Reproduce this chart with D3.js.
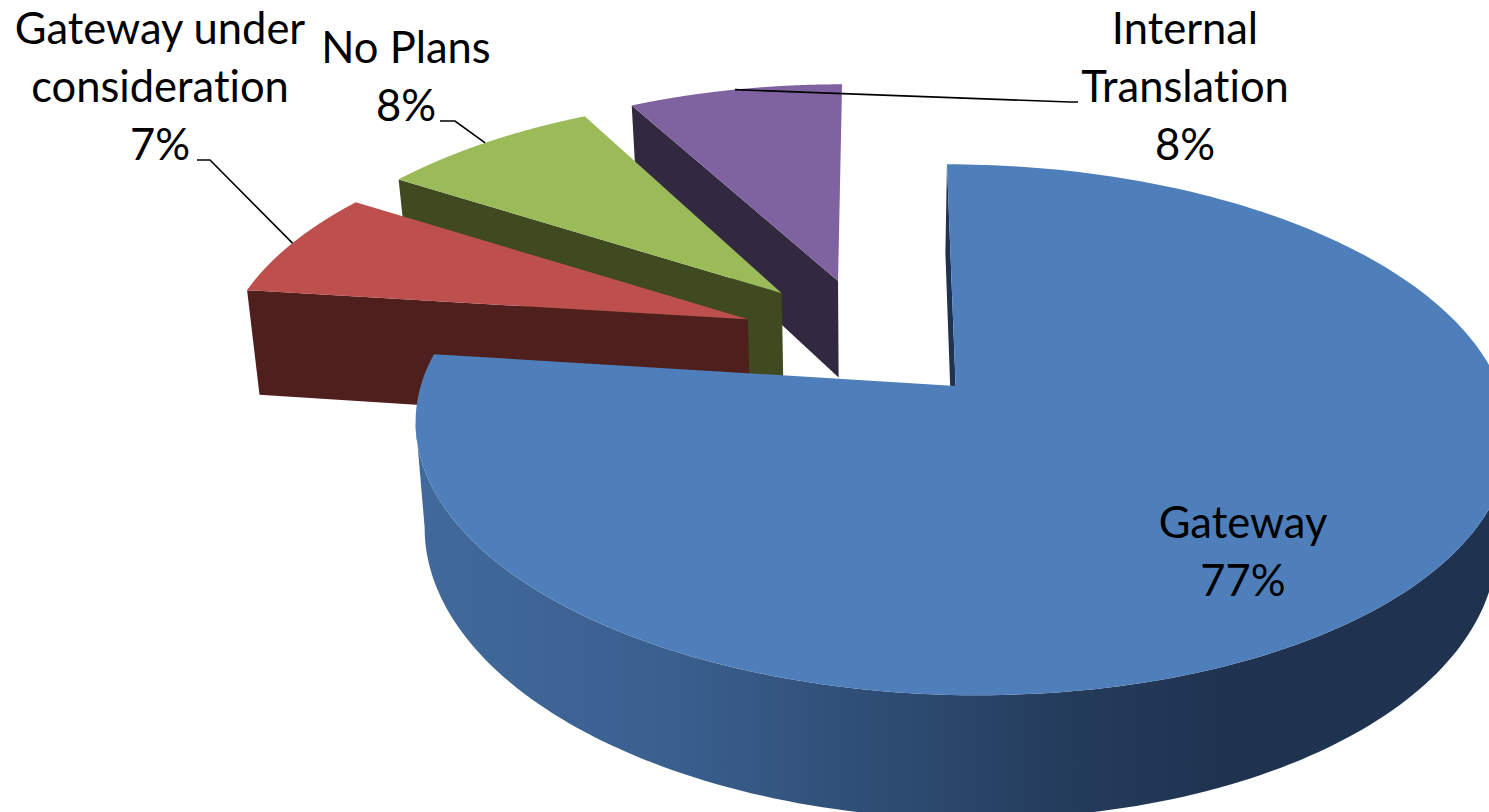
<!DOCTYPE html>
<html>
<head>
<meta charset="utf-8">
<script src="https://cdn.jsdelivr.net/npm/d3@7/dist/d3.min.js"></script>
<style>
  html, body { margin: 0; padding: 0; background: #fff; overflow: hidden; }
  svg { display: block; }
  text { font-family: Lato, "Open Sans", sans-serif; font-size: 43.5px; fill: #000; font-variant-ligatures: none; }
</style>
</head>
<body>
<svg id="chart" width="1489" height="812"></svg>
<script>
// Survey shares
const categories = ["Gateway", "Gateway under consideration", "No Plans", "Internal Translation"];
const shares = [77, 7, 8, 8];
const topColors = ["#4f7fba", "#bd4f4c", "#9bbb59", "#7f62a0"];
const wallColors = ["#1f3350", "#4f1f1e", "#3f4a20", "#32283f"];
const labelLines = [["Gateway", "77%"], ["Gateway under", "consideration", "7%"], ["No Plans", "8%"], ["Internal", "Translation", "8%"]];

// Perspective camera for the tilted pie plane
const view = { ox: 868, oy: 336, rx: 530, ry: 242, persp: 0.16, narrow: 0.02 };
const explodeX = 0.236, explodeY = 0.266;
const startDeg = 0;

// Per-slice placement refinements in plane units
const rimShiftX = [0.012, 0.006, 0.018, 0];
const rimShiftY = [0, -0.02, -0.008, -0.01];
const rimScaleX = [0.985, 1, 1, 0.97];
const apexShiftX = [0.004, -0.007, -0.006, 0];
const apexShiftY = [0, -0.02, -0.012, -0.022];
const wallDepth = [100, 108, 100, 100];

// Label placement: centre x and first baseline; leader elbows run from label to rim
const labelPos = [
  { x: 1243, y: 538 },
  { x: 160, y: 44 },
  { x: 406, y: 63 },
  { x: 1185, y: 44 }
];
const leaders = [null, [[197, 160], [210, 160]], [[440, 121], [455, 121]], [[1078, 102], [1070, 102]]];

const svg = d3.select("#chart");

const project = (X, Y, z, depth) => {
  const w = 1 + view.persp * Y;
  const s = 1 - view.narrow * z;
  return [view.ox + view.rx * X / w * s, view.oy - view.ry * Y / w + depth * z / w];
};

const start = startDeg * Math.PI / 180;
const arcs = d3.pie().sort(null).startAngle(start).endAngle(start + 2 * Math.PI)(shares);

const line = d3.line();

// Plane coordinates for a slice: apex offset along its bisector plus a rim direction
const sliceGeom = (d, i) => {
  const mid = (d.startAngle + d.endAngle) / 2;
  const cx = Math.sin(mid) * explodeX, cy = Math.cos(mid) * explodeY;
  const rim = (a, z) => project(
    cx + rimShiftX[i] + Math.sin(a) * rimScaleX[i],
    cy + rimShiftY[i] + Math.cos(a), z, wallDepth[i]);
  const apex = z => project(cx + apexShiftX[i], cy + apexShiftY[i], z, wallDepth[i]);
  const angles = d3.range(0, 241).map(k => d.startAngle + (d.endAngle - d.startAngle) * k / 240);
  return { mid, rim, apex, angles };
};

// Horizontal shading across the outer wall of the large slice
const defs = svg.append("defs");
const wallShade = defs.append("linearGradient").attr("id", "wallShade")
  .attr("gradientUnits", "userSpaceOnUse").attr("x1", 420).attr("x2", 1230).attr("y1", 0).attr("y2", 0);
[[0, "#41699b"], [0.3, "#3a6090"], [0.55, "#2f4e75"], [0.8, "#243c5c"], [1, "#1f3350"]]
  .forEach(([o, c]) => wallShade.append("stop").attr("offset", o).attr("stop-color", c));

// Painted back to front so nearer slices overlap farther ones
[3, 2, 1, 0].forEach(i => {
  const d = arcs[i];
  const g = sliceGeom(d, i);
  const group = svg.append("g").attr("class", "slice");

  if (i === 0) {
    // Only the camera-facing stretch of the wall, between the rim's horizontal extremes
    const leftmost = d3.least(g.angles, a => g.rim(a, 0)[0]);
    const rightmost = d3.greatest(g.angles, a => g.rim(a, 0)[0]);
    const facing = g.angles.filter(a => a >= rightmost && a <= leftmost);
    const outer = facing.map(a => g.rim(a, 0)).concat(facing.slice().reverse().map(a => g.rim(a, 1)));
    group.append("path").attr("d", line(outer) + "Z").attr("fill", "url(#wallShade)");
  }

  const radial = [g.apex(0), g.rim(d.startAngle, 0), g.rim(d.startAngle, 1), g.apex(1)];
  group.append("path").attr("d", line(radial) + "Z").attr("fill", wallColors[i]);

  const top = [g.apex(0)].concat(g.angles.map(a => g.rim(a, 0)));
  group.append("path").attr("d", line(top) + "Z").attr("fill", topColors[i]);
});

// Leader lines from each outside label to the middle of its slice's rim
leaders.forEach((pts, i) => {
  if (!pts) return;
  const g = sliceGeom(arcs[i], i);
  svg.append("path")
    .attr("d", line(pts.concat([g.rim(g.mid, 0)])))
    .attr("fill", "none").attr("stroke", "#000").attr("stroke-width", 1.6);
});

// Category and percentage labels
const lineHeight = 58;
labelLines.forEach((lines, i) => {
  const t = svg.append("text").attr("text-anchor", "middle").attr("aria-label", categories[i]);
  lines.forEach((s, j) => {
    t.append("tspan").attr("x", labelPos[i].x).attr("y", labelPos[i].y + j * lineHeight).text(s);
  });
});
</script>
</body>
</html>
